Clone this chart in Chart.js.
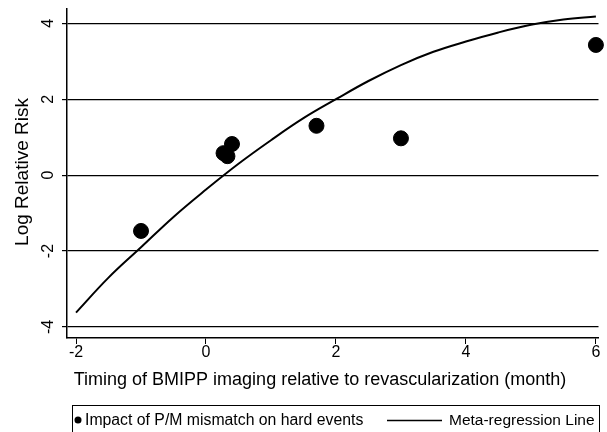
<!DOCTYPE html>
<html>
<head>
<meta charset="utf-8">
<script src="https://cdn.jsdelivr.net/npm/chart.js@4/dist/chart.umd.min.js"></script>
<style>html,body{margin:0;padding:0;background:#fff}</style>
</head>
<body>
<canvas id="chart-area" width="607" height="432"></canvas>
<script>
// studies: timing (month) vs log relative risk
var studyX = [-1.0, 0.27, 0.33, 0.40, 1.7, 3.0, 6.0];
var studyY = [-1.47, 0.58, 0.50, 0.82, 1.30, 0.97, 3.43];

// meta-regression line
var fitX = [-2, -1.5, -1, -0.5, 0, 0.5, 1, 1.5, 2, 2.5, 3, 3.5, 4, 4.5, 5, 5.5, 6];
var fitY = [-3.62, -2.70, -1.90, -1.10, -0.38, 0.30, 0.92, 1.50, 2.00, 2.48, 2.90, 3.25, 3.52, 3.76, 3.96, 4.10, 4.18];

var xTicks = [-2, 0, 2, 4, 6];
var yTicks = [-4, -2, 0, 2, 4];

var xTitle = 'Timing of BMIPP imaging relative to revascularization (month)';
var yTitle = 'Log Relative Risk';
var legendLabels = ['Impact of P/M mismatch on hard events', 'Meta-regression Line'];

var fontFam = '"Liberation Sans", Arial, sans-serif';

function toPoints(xs, ys) {
	return xs.map(function(x, i) { return {x: x, y: ys[i]}; });
}

var extras = {
	id: 'extras',
	afterDraw: function(chart) {
		var ctx = chart.ctx;
		var xs = chart.scales.x;
		var ys = chart.scales.y;
		ctx.save();
		ctx.fillStyle = '#000';
		ctx.textAlign = 'center';
		ctx.textBaseline = 'middle';
		ctx.font = '16px ' + fontFam;
		// x tick labels
		xTicks.forEach(function(v) {
			ctx.fillText(String(v), xs.getPixelForValue(v), 353);
		});
		// rotated y tick labels
		yTicks.forEach(function(v) {
			ctx.save();
			ctx.translate(49, ys.getPixelForValue(v));
			ctx.rotate(-Math.PI / 2);
			ctx.fillText(String(v), 0, 0);
			ctx.restore();
		});
		// y title
		ctx.font = '19px ' + fontFam;
		ctx.save();
		ctx.translate(23, 172);
		ctx.rotate(-Math.PI / 2);
		ctx.fillText(yTitle, 0, 0);
		ctx.restore();
		// x title
		ctx.font = '18px ' + fontFam;
		ctx.fillText(xTitle, 320, 380);

		// legend box
		ctx.strokeStyle = '#000';
		ctx.lineWidth = 1;
		ctx.strokeRect(72.5, 405.5, 527, 40);
		ctx.textAlign = 'left';
		ctx.beginPath();
		ctx.arc(78, 420, 3.5, 0, Math.PI * 2);
		ctx.fill();
		ctx.font = '15.8px ' + fontFam;
		ctx.fillText(legendLabels[0], 85, 421);
		ctx.beginPath();
		ctx.moveTo(387, 420.5);
		ctx.lineTo(442, 420.5);
		ctx.lineWidth = 1.5;
		ctx.stroke();
		ctx.font = '15.5px ' + fontFam;
		ctx.fillText(legendLabels[1], 449, 421);
		ctx.restore();
	}
};

var config = {
	type: 'scatter',
	data: {
		datasets: [{
			label: legendLabels[0],
			data: toPoints(studyX, studyY),
			backgroundColor: '#000',
			borderColor: '#000',
			pointRadius: 7.5,
			pointHoverRadius: 7.5,
			clip: false
		}, {
			type: 'line',
			label: legendLabels[1],
			data: toPoints(fitX, fitY),
			borderColor: '#000',
			borderWidth: 2,
			pointRadius: 0,
			tension: 0.4,
			fill: false
		}]
	},
	options: {
		responsive: false,
		animation: false,
		layout: { padding: { top: 7, right: 3, left: 0, bottom: 0 } },
		plugins: {
			legend: { display: false },
			tooltip: { enabled: false }
		},
		scales: {
			x: {
				type: 'linear',
				min: -2.139,
				max: 6.04,
				afterBuildTicks: function(s) { s.ticks = xTicks.map(function(v) { return {value: v}; }); },
				afterFit: function(s) { s.height = 94; s.paddingLeft = 0; s.paddingRight = 0; },
				grid: { drawOnChartArea: false, color: '#000', tickLength: 6, lineWidth: 1 },
				border: { color: '#000', width: 1.5 },
				ticks: { display: false }
			},
			y: {
				min: -4.29,
				max: 4.39,
				afterBuildTicks: function(s) { s.ticks = yTicks.map(function(v) { return {value: v}; }); },
				afterFit: function(s) { s.width = 67; s.paddingTop = 0; s.paddingBottom = 0; },
				grid: { color: '#000', tickLength: 5, lineWidth: 1.2 },
				border: { color: '#000', width: 1.5 },
				ticks: { color: 'rgba(0,0,0,0)', font: { family: fontFam, size: 16 } }
			}
		}
	},
	plugins: [extras]
};

window.onload = function() {
	var ctx = document.getElementById('chart-area').getContext('2d');
	window.myChart = new Chart(ctx, config);
};
</script>
</body>
</html>
